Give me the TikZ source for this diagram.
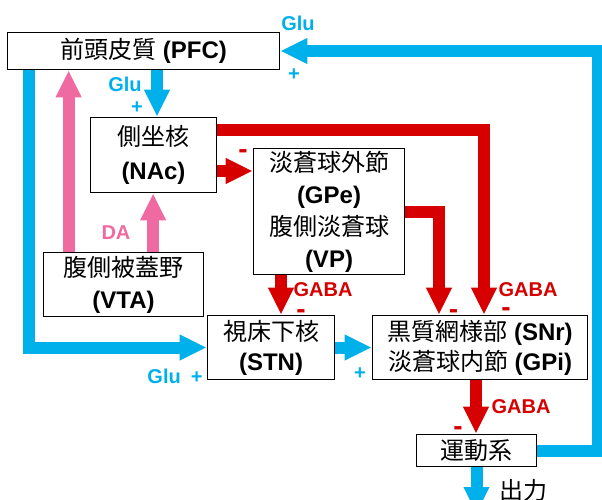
\documentclass[tikz,border=0pt]{standalone}
\usepackage{fontspec}
\setmainfont{Liberation Sans}
\newfontfamily\jpfont{Noto Sans CJK JP}
\usetikzlibrary{arrows.meta,backgrounds}
\definecolor{cblue}{RGB}{0,176,235}
\definecolor{cred}{RGB}{214,0,0}
\definecolor{cpink}{RGB}{238,106,160}
\newcommand\jt[1]{{\jpfont #1}}
\newcommand\latb[1]{{\bfseries #1}}
\newcommand\mbar{\raisebox{-7.3pt}[3.8pt][0pt]{-}}
\begin{document}
\begin{tikzpicture}[x=1pt,y=-1pt,
  box/.style={draw=black, line width=1.8pt, fill=white, inner sep=0pt, align=center, text=black},
  conn/.style={line width=12pt, line join=miter, -{Triangle[length=27pt,width=24pt]}},
  bconn/.style={conn, draw=cblue},
  rconn/.style={conn, draw=cred},
  pconn/.style={conn, draw=cpink},
  lbl/.style={inner sep=0pt, font=\bfseries\fontsize{20}{20}\selectfont},
  lblb/.style={lbl, text=cblue},
  lblr/.style={lbl, text=cred},
  lblp/.style={lbl, text=cpink},
  minus/.style={inner sep=0pt, text=cred, font=\bfseries\fontsize{28}{28}\selectfont}
]
\useasboundingbox (0,0) rectangle (602,500);

% boxes
\node[box, minimum width=272pt, minimum height=37pt, font=\fontsize{24}{30}\selectfont] (pfc) at (143.5,51) {\jt{前頭皮質} \latb{(PFC)}};
\node[box, minimum width=126pt, minimum height=75pt, font=\fontsize{24}{34.5}\selectfont] (nac) at (153.5,155) {\jt{側坐核}\\\latb{(NAc)}};
\node[box, minimum width=151pt, minimum height=126pt, font=\fontsize{24}{32}\selectfont] (gpe) at (329,211.5) {\jt{淡蒼球外節}\\\latb{(GPe)}\\\jt{腹側淡蒼球}\\\latb{(VP)}};
\node[box, minimum width=160pt, minimum height=64pt, font=\fontsize{24}{32}\selectfont] (vta) at (123.5,284.5) {\jt{腹側被蓋野}\\\latb{(VTA)}};
\node[box, minimum width=127pt, minimum height=64pt, font=\fontsize{24}{30}\selectfont] (stn) at (271,347.5) {\jt{視床下核}\\\latb{(STN)}};
\node[box, minimum width=215pt, minimum height=64pt, font=\fontsize{24}{30}\selectfont] (snr) at (480,347.5) {\jt{黒質網様部} \latb{(SNr)}\\\jt{淡蒼球内節} \latb{(GPi)}};
\node[box, minimum width=120pt, minimum height=32pt, font=\fontsize{24}{30}\selectfont] (motor) at (476.5,450.5) {\jt{運動系}};
\coordinate (out) at (476.5,514);

% connectors
\begin{scope}[on background layer]
\draw[bconn] (motor.east) -- ([xshift=60.5pt]motor.east) |- (pfc.east);
\draw[bconn] ([xshift=3.5pt]nac.north |- pfc.south) -- ([xshift=3.5pt]nac.north);
\draw[bconn] ([xshift=22.5pt]pfc.south west) |- (stn.west);
\draw[pconn] ([xshift=26pt]vta.north west) -- ([xshift=26pt]vta.north west |- pfc.south);
\draw[pconn] ([xshift=110.5pt]vta.north west) -- ([xshift=110.5pt]vta.north west |- nac.south);
\draw[rconn] ([yshift=-13.5pt]nac.north east) -| ([xshift=4pt]snr.north);
\draw[rconn] ([yshift=-16pt]nac.east) -- ([yshift=-16pt]nac.east -| gpe.west);
\draw[rconn] (gpe.east) -| ([xshift=-41pt]snr.north);
\draw[rconn] ([xshift=-48pt]gpe.south) -- ([xshift=-48pt]gpe.south |- stn.north);
\draw[bconn] (stn.east) -- (snr.west);
\draw[rconn] ([xshift=-4pt]snr.south) -- ([xshift=-4pt]snr.south |- motor.north);
\draw[bconn] (motor.south) -- (out);
\end{scope}

% labels
\node[lblb] (g1) at (298,23) {Glu};
\node[lblb] (p1) at (294,75) {+};
\node[lblb] (g2) at (125,84) {Glu};
\node[lblb] (p2) at (137,108) {+};
\node[minus] (m1) at (243,149.5) {\mbar};
\node[lblp] (da) at (116,233) {DA};
\node[lblr] (ga1) at (323,290) {GABA};
\node[minus] (m2) at (301,309.5) {\mbar};
\node[minus] (m3) at (453.5,309) {\mbar};
\node[lblr] (ga2) at (528,290) {GABA};
\node[minus] (m4) at (506,307) {\mbar};
\node[lblb] (p3) at (360,374) {+};
\node[lblb] (g3) at (175,376) {Glu\enspace+};
\node[lblr] (ga3) at (521,407) {GABA};
\node[minus] (m5) at (458,426.5) {\mbar};
\node[inner sep=0pt, font=\fontsize{24}{24}\selectfont] (outl) at (523,490) {\jt{出力}};
\end{tikzpicture}
\end{document}
